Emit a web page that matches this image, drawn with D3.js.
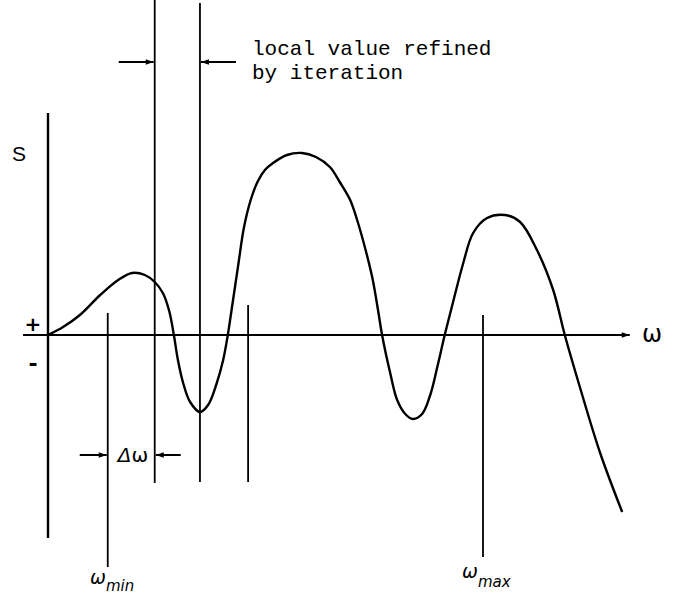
<!DOCTYPE html>
<html>
<head>
<meta charset="utf-8">
<script src="https://cdn.jsdelivr.net/npm/d3@7"></script>
<style>
  html, body { margin: 0; padding: 0; background: #fff; }
  svg { display: block; }
</style>
</head>
<body>
<svg id="chart" width="676" height="596"></svg>
<script>
// ---- data (omega in arbitrary units 0..100, S in arbitrary units) ----
const curveOmega = [0, 2.6, 5.5, 9.0, 12.1, 14.5, 16.7, 18.4, 19.8, 20.9, 21.7, 22.4, 23.3, 24.5, 26.2, 27.6, 29.1, 30.2, 31.0, 31.6, 32.8, 33.8, 35.0, 36.2, 37.4, 38.8, 41.2, 43.8, 46.2, 48.6, 50.3, 52.1, 53.3, 54.3, 55.2, 56.0, 56.9, 57.6, 59.0, 60.2, 61.6, 62.9, 64.5, 65.9, 67.2, 68.4, 69.8, 71.6, 73.3, 75.7, 78.8, 81.4, 84.3, 87.1, 89.1, 91.7, 95.2, 99.0];
const curveS     = [0, 4, 10, 20, 27.5, 31, 30, 26.5, 21, 12, 0, -12.5, -24, -33.5, -38.5, -35, -24, -12.5, 0, 11.5, 35, 54, 68, 77, 82.5, 86, 90, 91, 89, 84, 76.5, 67.5, 57.5, 47.5, 37.5, 27.5, 12.5, 0, -19, -32.5, -39.5, -42, -39.5, -30, -15, 0, 16, 36, 51, 58.5, 60, 56.5, 42.5, 22.5, 0, -26, -59, -88.5];

// vertical marker lines: omega position, upper and lower S extent
const markerOmega  = [10.3, 18.4, 26.2, 34.5, 75.0];
const markerTop    = [11, 167.5, 166, 15, 10];
const markerBottom = [-116, -74, -73.5, -73.5, -111];

const axisOmegaExtent = [-4.3, 100.3];
const axisSExtent = [-101.5, 111];

// ---- scales ----
const x = d3.scaleLinear().domain([0, 100]).range([48, 628]);
const y = d3.scaleLinear().domain([-100, 100]).range([535, 135]);

const svg = d3.select("#chart");

svg.append("defs").append("marker")
  .attr("id", "ah").attr("viewBox", "0 0 10 10")
  .attr("refX", 10).attr("refY", 5)
  .attr("markerWidth", 10).attr("markerHeight", 8)
  .attr("markerUnits", "userSpaceOnUse")
  .attr("orient", "auto")
  .append("path").attr("d", "M0,1.5 L10,5 L0,8.5 Z").attr("fill", "#000");

// axes
svg.append("line")
  .attr("x1", x(axisOmegaExtent[0])).attr("x2", x(axisOmegaExtent[1]))
  .attr("y1", y(0)).attr("y2", y(0))
  .attr("stroke", "#000").attr("stroke-width", 2.2)
  .attr("marker-end", "url(#ah)");
svg.append("line")
  .attr("x1", x(0)).attr("x2", x(0))
  .attr("y1", y(axisSExtent[1])).attr("y2", y(axisSExtent[0]))
  .attr("stroke", "#000").attr("stroke-width", 2.4);

// marker lines
svg.selectAll(".mk").data(markerOmega).enter().append("line")
  .attr("class", "mk")
  .attr("x1", d => x(d)).attr("x2", d => x(d))
  .attr("y1", (d, i) => y(markerTop[i])).attr("y2", (d, i) => y(markerBottom[i]))
  .attr("stroke", "#000").attr("stroke-width", 1.8);

// curve
const pts = curveOmega.map((w, i) => [w, curveS[i]]);
svg.append("path")
  .attr("d", d3.line().x(d => x(d[0])).y(d => y(d[1])).curve(d3.curveCatmullRom.alpha(0.5))(pts))
  .attr("fill", "none").attr("stroke", "#000").attr("stroke-width", 2.4);

// dimension arrows (top)
const topY = 62;
function arrow(x1, x2, yy) {
  svg.append("line").attr("x1", x1).attr("x2", x2).attr("y1", yy).attr("y2", yy)
    .attr("stroke", "#000").attr("stroke-width", 2).attr("marker-end", "url(#ah)");
}
arrow(x(markerOmega[1]) - 36, x(markerOmega[1]) - 1, topY);
arrow(x(markerOmega[2]) + 36, x(markerOmega[2]) + 1, topY);
// delta omega arrows
const dY = 455;
arrow(x(markerOmega[0]) - 28, x(markerOmega[0]) - 1, dY);
arrow(x(markerOmega[1]) + 26, x(markerOmega[1]) + 1, dY);

// texts
svg.append("text").attr("x", 252).attr("y", 55)
  .attr("font-family", "Liberation Mono, monospace").attr("font-size", 21)
  .text("local value refined");
svg.append("text").attr("x", 252).attr("y", 79)
  .attr("font-family", "Liberation Mono, monospace").attr("font-size", 21)
  .text("by iteration");

svg.append("text").attr("x", 19).attr("y", 161).attr("text-anchor", "middle")
  .attr("font-family", "Liberation Sans, Arial, sans-serif").attr("font-size", 21)
  .text("S");
svg.append("text").attr("x", 33).attr("y", 331).attr("text-anchor", "middle")
  .attr("font-family", "DejaVu Sans, sans-serif").attr("font-weight", "bold").attr("font-size", 20)
  .text("+");
svg.append("text").attr("x", 33).attr("y", 371).attr("text-anchor", "middle")
  .attr("font-family", "DejaVu Sans, sans-serif").attr("font-weight", "bold").attr("font-size", 22)
  .text("-");

svg.append("text").attr("x", 133).attr("y", 462).attr("text-anchor", "middle")
  .attr("font-family", "DejaVu Sans, sans-serif").attr("font-size", 20)
  .html('<tspan font-style="italic">Δ</tspan>ω');

svg.append("text").attr("x", 642).attr("y", 342)
  .attr("font-family", "DejaVu Sans, sans-serif").attr("font-size", 24)
  .text("ω");

const wmin = svg.append("text").attr("x", 90).attr("y", 584)
  .attr("font-family", "DejaVu Sans, sans-serif").attr("font-size", 19);
wmin.append("tspan").attr("font-style", "italic").text("ω");
wmin.append("tspan").attr("font-style", "italic").attr("font-size", 15).attr("dy", 7).text("min");

const wmax = svg.append("text").attr("x", 462).attr("y", 578)
  .attr("font-family", "DejaVu Sans, sans-serif").attr("font-size", 19);
wmax.append("tspan").attr("font-style", "italic").text("ω");
wmax.append("tspan").attr("font-style", "italic").attr("font-size", 15).attr("dy", 9).text("max");
</script>
</body>
</html>
